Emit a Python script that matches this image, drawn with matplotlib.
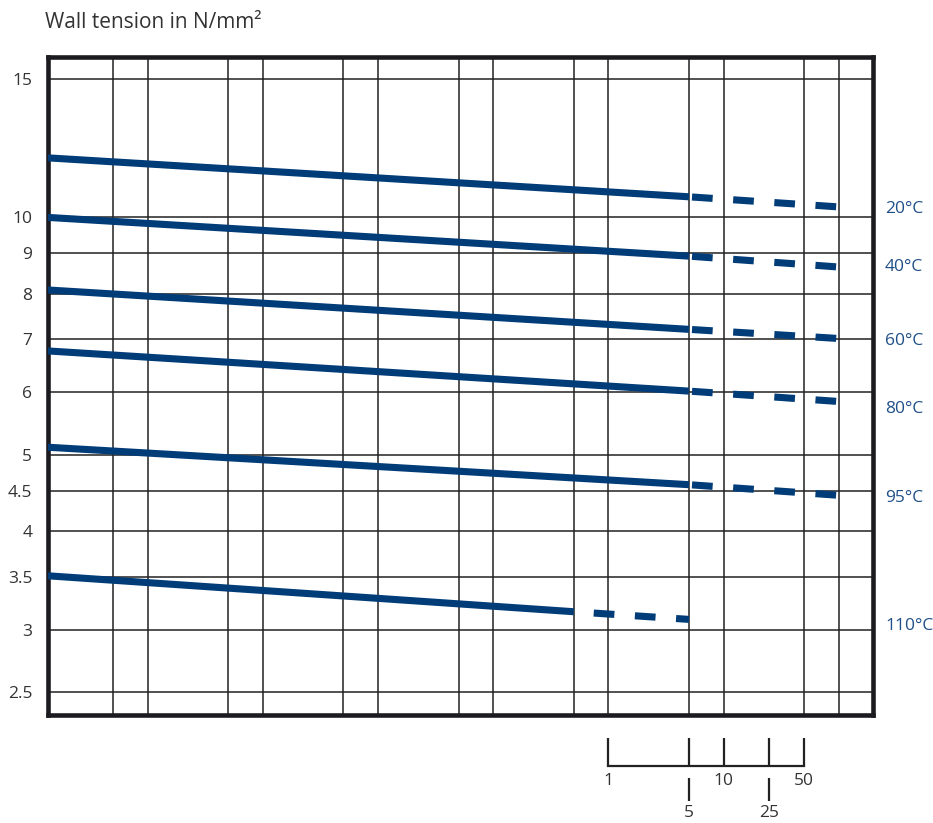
import matplotlib
matplotlib.use("Agg")
import matplotlib.pyplot as plt
from matplotlib.ticker import NullLocator, NullFormatter, FixedLocator, FixedFormatter
from matplotlib.transforms import blended_transform_factory

plt.rcParams['font.family'] = ['Open Sans', 'DejaVu Sans']
plt.rcParams['lines.scale_dashes'] = False

# ---- data ----
temps = ["20°C", "40°C", "60°C", "80°C", "95°C", "110°C"]
# time in hours
t_start = [0.135, 0.135, 0.135, 0.135, 0.135, 0.135]
t_solid_end = [5e4, 5e4, 5e4, 5e4, 5e4, 5e3]
t_dash_end = [1e6, 1e6, 1e6, 1e6, 1e6, 5e4]
# wall tension N/mm2
s_start = [11.9, 10.0, 8.09, 6.77, 5.11, 3.51]
s_solid_end = [10.62, 8.93, 7.21, 6.02, 4.58, 3.16]
s_dash_end = [10.31, 8.65, 7.02, 5.84, 4.44, 3.09]
label_y = [10.25, 8.64, 6.96, 5.72, 4.41, 3.03]

y_ticks = [15, 10, 9, 8, 7, 6, 5, 4.5, 4, 3.5, 3, 2.5]
y_tick_labels = ["15", "10", "9", "8", "7", "6", "5", "4.5", "4", "3.5", "3", "2.5"]
x_grid = [0.5, 1, 5, 10, 50, 100, 500, 1e3, 5e3, 1e4, 5e4, 1e5, 5e5, 1e6]
year_labels = ["1", "5", "10", "25", "50"]
year_hours = [1e4, 5e4, 1e5, 2.5e5, 5e5]
year_low = [False, True, False, True, False]

# ---- style ----
W, H = 933, 823
blue = "#003c78"
label_blue = "#1f4f88"
text_gray = "#333333"
grid_col = "#222222"

fig = plt.figure(figsize=(W / 100, H / 100), dpi=100)
L, R, T, B = 47.5, 873, 56.5, 715
ax = fig.add_axes([L / W, 1 - B / H, (R - L) / W, (B - T) / H])
ax.set_xscale('log')
ax.set_yscale('log')
ax.set_xlim(0.135, 1.98e6)
ax.set_ylim(2.337, 16.0)

ax.xaxis.set_major_locator(FixedLocator(x_grid))
ax.xaxis.set_major_formatter(NullFormatter())
ax.xaxis.set_minor_locator(NullLocator())
ax.yaxis.set_major_locator(FixedLocator(y_ticks))
ax.yaxis.set_major_formatter(FixedFormatter(y_tick_labels))
ax.yaxis.set_minor_locator(NullLocator())
ax.yaxis.set_minor_formatter(NullFormatter())
ax.tick_params(axis='both', length=0)
ax.tick_params(axis='y', pad=11, labelsize=12.5, labelcolor=text_gray)
ax.grid(True, color=grid_col, lw=1.1)
ax.set_axisbelow(True)
for sp in ax.spines.values():
    sp.set_linewidth(3.3)
    sp.set_color("#1c1c20")

lw = 5.1
on_pt, off_pt = 14.9, 14.8
for i in range(len(temps)):
    ax.plot([t_start[i], t_solid_end[i]], [s_start[i], s_solid_end[i]],
            color=blue, lw=lw, solid_capstyle='butt', zorder=3)
    if i < 5:
        offset = on_pt + off_pt - 2.2
    else:
        offset = on_pt + 0.4
    ax.plot([t_solid_end[i], t_dash_end[i]], [s_solid_end[i], s_dash_end[i]],
            color=blue, lw=lw, dash_capstyle='butt',
            linestyle=(offset, (on_pt, off_pt)), zorder=3)
    ax.text(1.0145, label_y[i], temps[i], transform=blended_transform_factory(ax.transAxes, ax.transData),
            ha='left', va='center', fontsize=12.5, color=label_blue)

fig.text(45 / W, 1 - 22 / H, "Wall tension in N/mm²", ha='left', va='center',
         fontsize=15, color=text_gray)

# secondary time axis in years
tr = blended_transform_factory(ax.transData, ax.transAxes)
def ay(px):
    return (B - px) / (B - T)

ax.plot([year_hours[0], year_hours[-1]], [ay(766), ay(766)], transform=tr,
        color=grid_col, lw=1.6, clip_on=False, solid_capstyle='projecting')
for h, lab, low in zip(year_hours, year_labels, year_low):
    ax.plot([h, h], [ay(738), ay(766)], transform=tr, color=grid_col, lw=1.6,
            clip_on=False, solid_capstyle='butt')
    if low:
        ax.plot([h, h], [ay(778), ay(801)], transform=tr, color=grid_col, lw=1.6,
                clip_on=False, solid_capstyle='butt')
        ax.text(h, ay(813), lab, transform=tr, ha='center', va='center',
                fontsize=12.5, color=text_gray)
    else:
        ax.text(h, ay(781), lab, transform=tr, ha='center', va='center',
                fontsize=12.5, color=text_gray)

fig.savefig("out.png", dpi=100)
